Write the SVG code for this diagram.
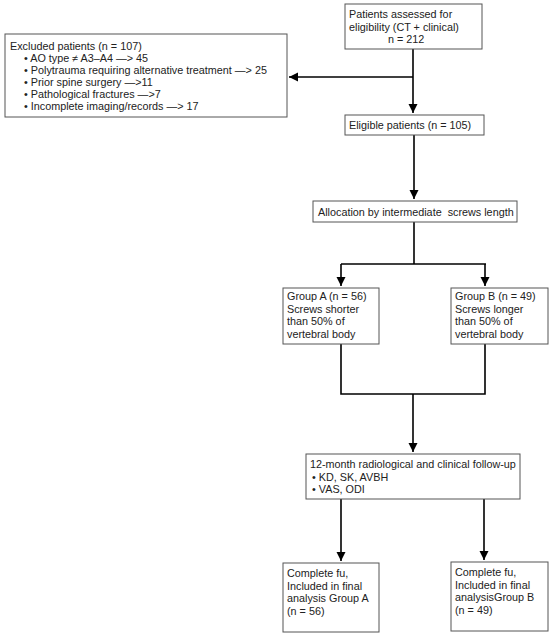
<svg xmlns="http://www.w3.org/2000/svg" width="550" height="637" viewBox="0 0 550 637">
<defs>
<marker id="ah" markerWidth="10" markerHeight="10" refX="9" refY="5" orient="auto" markerUnits="userSpaceOnUse">
<path d="M0,0.5 L9,5 L0,9.5 Z" fill="#000"/>
</marker>
<style>
.box{fill:#fff;stroke:#555;stroke-width:1}
.t{font-family:"Liberation Sans",Arial,sans-serif;font-size:10.8px;fill:#222}
.c{fill:none;stroke:#000;stroke-width:1.6}
</style>
</defs>
<rect width="550" height="637" fill="#fff"/>
<g id="connectors">
<path class="c" d="M413,49 V113" marker-end="url(#ah)"/>
<path class="c" d="M413,77 H289" marker-end="url(#ah)"/>
<path class="c" d="M414,135 V199" marker-end="url(#ah)"/>
<path class="c" d="M414,222 V264"/>
<path class="c" d="M341,264 H486"/>
<path class="c" d="M341,264 V286" marker-end="url(#ah)"/>
<path class="c" d="M485,264 V286" marker-end="url(#ah)"/>
<path class="c" d="M341,344 V394 H485 V344"/>
<path class="c" d="M413,394 V452" marker-end="url(#ah)"/>
<path class="c" d="M341,499 V561" marker-end="url(#ah)"/>
<path class="c" d="M484,499 V560" marker-end="url(#ah)"/>
</g>
<g id="assessed">
<rect class="box" x="345" y="4" width="137" height="45"/>
<text class="t" x="349" y="18">Patients assessed for</text>
<text class="t" x="349" y="30.5">eligibility (CT + clinical)</text>
<text class="t" x="388" y="43">n = 212</text>
</g>
<g id="excluded">
<rect class="box" x="5" y="34" width="282" height="83"/>
<text class="t" x="10" y="50">Excluded patients (n = 107)</text>
<text class="t" x="24" y="62">• AO type ≠ A3–A4 —&gt; 45</text>
<text class="t" x="24" y="74">• Polytrauma requiring alternative treatment —&gt; 25</text>
<text class="t" x="24" y="86">• Prior spine surgery —&gt;11</text>
<text class="t" x="24" y="98">• Pathological fractures —&gt;7</text>
<text class="t" x="24" y="110">• Incomplete imaging/records —&gt; 17</text>
</g>
<g id="eligible">
<rect class="box" x="345" y="115" width="139" height="20"/>
<text class="t" x="349" y="128.5">Eligible patients (n = 105)</text>
</g>
<g id="allocation">
<rect class="box" x="313" y="201" width="204" height="21"/>
<text class="t" x="318" y="215.5" xml:space="preserve">Allocation by intermediate  screws length</text>
</g>
<g id="groupA">
<rect class="box" x="283" y="288" width="96" height="56"/>
<text class="t" x="287" y="300">Group A (n = 56)</text>
<text class="t" x="287" y="312.5">Screws shorter</text>
<text class="t" x="287" y="325">than 50% of</text>
<text class="t" x="287" y="337.5">vertebral body</text>
</g>
<g id="groupB">
<rect class="box" x="451" y="288" width="97" height="56"/>
<text class="t" x="455" y="300">Group B (n = 49)</text>
<text class="t" x="455" y="312.5">Screws longer</text>
<text class="t" x="455" y="325">than 50% of</text>
<text class="t" x="455" y="337.5">vertebral body</text>
</g>
<g id="followup">
<rect class="box" x="306" y="454" width="214" height="45"/>
<text class="t" x="310" y="468">12-month radiological and clinical follow-up</text>
<text class="t" x="312" y="481">• KD, SK, AVBH</text>
<text class="t" x="312" y="493">• VAS, ODI</text>
</g>
<g id="finalA">
<rect class="box" x="283" y="563" width="96" height="69"/>
<text class="t" x="287" y="577">Complete fu,</text>
<text class="t" x="287" y="589.5">Included in final</text>
<text class="t" x="287" y="602">analysis Group A</text>
<text class="t" x="287" y="614.5">(n = 56)</text>
</g>
<g id="finalB">
<rect class="box" x="451" y="562" width="97" height="69"/>
<text class="t" x="455" y="576">Complete fu,</text>
<text class="t" x="455" y="588.5">Included in final</text>
<text class="t" x="455" y="601">analysisGroup B</text>
<text class="t" x="455" y="613.5">(n = 49)</text>
</g>
</svg>
